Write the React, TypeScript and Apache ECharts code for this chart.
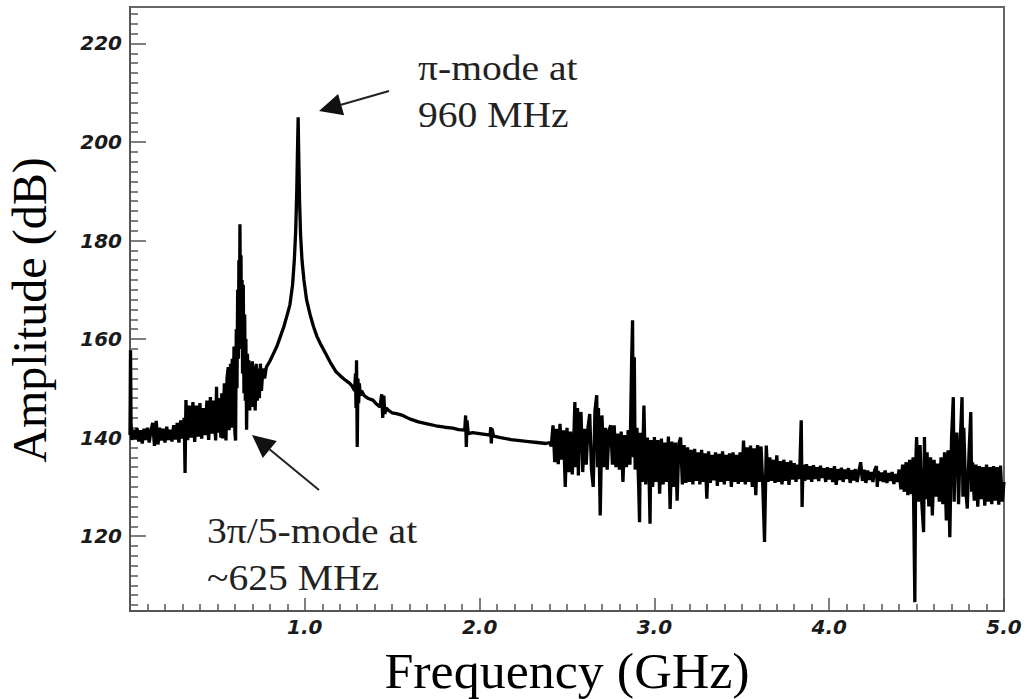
import React, { useEffect, useRef } from "react";
import * as echarts from "echarts";

// ---- data: frequency (GHz) vs amplitude (dB) ----
const lowBand: [number, number][] = [
  [0.0, 140.5], [0.003, 157.7], [0.006, 143.0], [0.01, 139.5], [0.02, 141.6], [0.03, 139.6],
  [0.04, 141.9], [0.05, 139.2], [0.06, 141.5], [0.07, 138.8], [0.08, 141.8], [0.09, 139.5],
  [0.1, 142.0], [0.11, 139.0], [0.12, 141.5], [0.13, 143.0], [0.14, 138.3], [0.15, 143.4],
  [0.16, 138.6], [0.17, 142.0], [0.18, 139.4], [0.19, 141.8], [0.2, 139.0], [0.21, 142.2],
  [0.22, 139.5], [0.23, 141.6], [0.24, 139.2], [0.25, 142.5], [0.26, 139.6], [0.27, 143.0],
  [0.28, 139.0], [0.29, 143.5], [0.3, 139.8], [0.31, 144.0], [0.315, 132.8], [0.32, 147.6],
  [0.33, 139.5], [0.34, 146.5], [0.35, 140.0], [0.36, 147.2], [0.37, 139.1], [0.38, 146.5],
  [0.39, 140.2], [0.4, 147.0], [0.41, 139.8], [0.42, 146.0], [0.43, 140.5], [0.44, 147.5],
  [0.45, 139.5], [0.46, 148.2], [0.47, 140.8], [0.48, 147.5], [0.49, 139.4], [0.495, 150.3],
  [0.5, 141.0], [0.51, 148.0], [0.52, 140.0], [0.525, 149.0], [0.53, 139.8], [0.54, 151.0],
  [0.549, 139.4], [0.555, 152.0], [0.562, 154.3], [0.567, 141.5], [0.575, 155.0], [0.58, 142.0],
  [0.585, 156.0], [0.59, 146.0], [0.595, 158.5], [0.6, 141.0], [0.604, 139.4], [0.608, 162.0],
  [0.612, 150.0], [0.616, 170.0], [0.62, 156.0], [0.623, 176.0], [0.626, 163.0], [0.629, 183.3],
  [0.632, 166.0], [0.635, 177.0], [0.638, 158.0], [0.641, 172.0], [0.644, 153.0], [0.648, 171.0],
  [0.652, 149.0], [0.656, 165.0], [0.66, 147.5], [0.663, 160.0], [0.667, 141.6], [0.672, 157.0],
  [0.676, 146.0], [0.68, 155.7], [0.685, 145.5], [0.69, 155.0], [0.695, 147.0], [0.7, 155.5],
  [0.705, 146.2], [0.71, 154.5], [0.716, 145.5], [0.722, 155.0], [0.728, 147.5], [0.734, 154.0],
  [0.74, 148.0], [0.746, 155.0], [0.752, 149.5], [0.76, 154.0], [0.77, 152.0], [0.78, 154.3],
];

const piModePeak: [number, number][] = [
  [0.8, 155.5], [0.82, 157.0], [0.84, 158.5], [0.86, 160.5], [0.88, 162.5], [0.9, 165.0],
  [0.915, 167.0], [0.93, 171.0], [0.94, 176.0], [0.948, 182.0], [0.954, 190.0], [0.958, 198.0],
  [0.962, 205.0], [0.966, 196.0], [0.97, 188.0], [0.976, 181.0], [0.984, 176.0], [0.995, 172.0],
  [1.01, 168.0], [1.03, 165.0], [1.05, 162.5], [1.07, 160.5], [1.09, 159.0], [1.12, 157.0],
  [1.15, 155.0], [1.18, 153.3], [1.22, 152.0], [1.257, 151.0], [1.27, 150.5], [1.285, 149.5],
];

const tailDecay: [number, number][] = [
  [1.29, 153.0], [1.293, 146.0], [1.296, 155.7], [1.3, 138.1], [1.304, 152.0], [1.308, 147.0],
  [1.312, 151.0], [1.318, 148.5], [1.325, 149.5], [1.34, 148.5], [1.36, 148.0], [1.39, 147.6],
  [1.41, 146.8], [1.43, 146.2], [1.44, 148.8], [1.446, 144.0], [1.452, 148.5], [1.458, 144.8],
  [1.465, 146.0], [1.48, 145.5], [1.5, 145.0], [1.53, 144.8], [1.56, 144.5], [1.6, 143.8],
  [1.65, 143.2], [1.7, 142.8], [1.75, 142.4], [1.8, 142.1], [1.846, 141.9], [1.88, 141.6],
  [1.915, 141.5], [1.92, 144.5], [1.924, 138.1], [1.928, 143.5], [1.935, 140.8], [1.96, 141.0],
  [2.0, 140.8], [2.06, 140.5], [2.064, 142.1], [2.067, 138.8], [2.071, 141.8], [2.08, 140.3],
  [2.12, 140.0], [2.18, 139.6], [2.23, 139.4], [2.28, 139.2], [2.33, 139.0], [2.38, 138.8],
];

const midNoise: [number, number][] = [
  [2.4, 139.0], [2.41, 138.2], [2.42, 142.5], [2.43, 135.0], [2.44, 141.8], [2.45, 134.6],
  [2.46, 142.8], [2.47, 135.5], [2.48, 141.5], [2.49, 130.0], [2.5, 142.0], [2.51, 133.0],
  [2.52, 141.2], [2.53, 132.5], [2.54, 141.0], [2.545, 147.2], [2.55, 134.0], [2.56, 146.0],
  [2.565, 132.3], [2.57, 141.5], [2.58, 145.2], [2.59, 133.0], [2.6, 141.8], [2.61, 134.5],
  [2.62, 142.0], [2.63, 144.8], [2.64, 133.5], [2.65, 130.0], [2.66, 145.5], [2.67, 148.6],
  [2.675, 134.0], [2.68, 146.0], [2.69, 124.2], [2.7, 144.5], [2.71, 134.0], [2.72, 142.0],
  [2.73, 133.5], [2.74, 141.5], [2.75, 142.5], [2.76, 134.5], [2.77, 142.5], [2.78, 134.0],
  [2.79, 140.8], [2.8, 133.5], [2.81, 141.2], [2.82, 131.0], [2.83, 140.5], [2.84, 134.0],
  [2.85, 141.5], [2.86, 134.5], [2.87, 156.0], [2.875, 163.8], [2.88, 136.0], [2.885, 156.3],
  [2.89, 133.5], [2.9, 142.0], [2.91, 130.0], [2.915, 122.8], [2.92, 141.0], [2.93, 131.0],
  [2.94, 146.5], [2.95, 130.5], [2.96, 140.0], [2.97, 131.5], [2.975, 122.5], [2.98, 139.5],
  [2.99, 130.0], [3.0, 140.1], [3.01, 131.0], [3.02, 139.5], [3.03, 128.6], [3.04, 139.8],
  [3.05, 130.5], [3.06, 139.0], [3.07, 131.0], [3.08, 140.2], [3.09, 125.5], [3.1, 139.2],
  [3.11, 130.0], [3.12, 139.0], [3.13, 127.2], [3.14, 138.8], [3.15, 140.0], [3.16, 130.5],
  [3.17, 138.5], [3.18, 130.8], [3.19, 138.0], [3.2, 131.0], [3.21, 137.5], [3.22, 130.5],
  [3.23, 137.7], [3.24, 131.2], [3.25, 137.0], [3.26, 130.5], [3.27, 137.5], [3.28, 131.0],
  [3.29, 136.8], [3.3, 127.6], [3.31, 137.2], [3.32, 130.8], [3.33, 136.5], [3.34, 131.3],
  [3.35, 137.0], [3.36, 130.2], [3.37, 136.7], [3.38, 131.0], [3.39, 137.2], [3.4, 130.5],
  [3.41, 136.5], [3.42, 131.2], [3.43, 136.8], [3.44, 130.0], [3.45, 137.0], [3.46, 131.0],
  [3.47, 136.5], [3.48, 130.6], [3.49, 137.0], [3.5, 131.0], [3.51, 139.4], [3.52, 130.5],
  [3.53, 138.0], [3.54, 131.0], [3.55, 138.4], [3.56, 130.0], [3.57, 137.8], [3.58, 128.3],
  [3.59, 138.5], [3.6, 131.0], [3.61, 138.2], [3.62, 130.5], [3.63, 118.8], [3.64, 138.4],
  [3.65, 131.0], [3.66, 136.0], [3.67, 131.2], [3.68, 135.5], [3.69, 130.8], [3.7, 136.4],
  [3.71, 131.0], [3.72, 135.2], [3.73, 130.5], [3.74, 135.5], [3.75, 131.2], [3.76, 135.0],
  [3.77, 130.4], [3.78, 135.3], [3.79, 131.5], [3.8, 134.8], [3.81, 131.0], [3.82, 134.5],
  [3.83, 131.6], [3.84, 143.5], [3.845, 125.9], [3.85, 134.5], [3.86, 131.2], [3.87, 134.6],
  [3.88, 131.5], [3.89, 134.2],
];

const quietBand: [number, number][] = [
  [3.9, 131.0], [3.91, 134.4], [3.92, 131.6], [3.93, 134.0], [3.94, 131.2], [3.95, 134.3],
  [3.96, 131.8], [3.97, 133.8], [3.98, 131.0], [3.99, 134.0], [4.0, 131.5], [4.01, 133.8],
  [4.02, 131.0], [4.03, 134.2], [4.04, 130.4], [4.05, 133.6], [4.06, 131.4], [4.07, 133.9],
  [4.08, 131.0], [4.09, 133.5], [4.1, 131.6], [4.11, 133.8], [4.12, 130.8], [4.13, 133.4],
  [4.14, 131.3], [4.15, 133.6], [4.16, 131.0], [4.17, 133.2], [4.18, 135.0], [4.19, 131.2],
  [4.2, 133.5], [4.21, 130.8], [4.22, 133.3], [4.23, 131.4], [4.24, 133.0], [4.25, 131.0],
  [4.26, 133.4], [4.27, 134.2], [4.275, 130.0], [4.28, 133.2], [4.29, 131.2], [4.3, 132.9],
  [4.31, 131.0], [4.32, 133.3], [4.33, 130.8], [4.34, 132.8], [4.35, 131.2], [4.36, 133.0],
  [4.37, 130.6], [4.38, 132.6], [4.39, 131.0], [4.4, 133.5], [4.41, 129.5], [4.42, 134.5],
  [4.43, 129.0], [4.44, 135.0],
];

const highNoise: [number, number][] = [
  [4.45, 128.3], [4.46, 135.5], [4.47, 128.5], [4.48, 136.0], [4.49, 106.6], [4.495, 134.5],
  [4.5, 140.1], [4.51, 127.0], [4.52, 138.5], [4.53, 126.6], [4.54, 120.8], [4.545, 140.1],
  [4.55, 127.5], [4.56, 137.0], [4.57, 126.0], [4.58, 136.0], [4.59, 124.2], [4.6, 135.5],
  [4.61, 128.0], [4.62, 134.7], [4.63, 127.0], [4.64, 136.0], [4.65, 126.5], [4.66, 137.0],
  [4.67, 123.2], [4.68, 137.4], [4.69, 119.8], [4.7, 140.0], [4.71, 148.2], [4.715, 127.0],
  [4.72, 139.0], [4.73, 141.0], [4.74, 126.5], [4.75, 139.5], [4.76, 148.2], [4.765, 128.0],
  [4.77, 142.0], [4.78, 130.0], [4.79, 125.6], [4.8, 137.0], [4.81, 145.2], [4.815, 129.0],
  [4.82, 135.0], [4.83, 127.2], [4.84, 134.5], [4.85, 126.0], [4.86, 134.2], [4.87, 127.5],
  [4.88, 134.0], [4.89, 126.2], [4.9, 134.5], [4.91, 127.0], [4.92, 134.0], [4.93, 126.5],
  [4.94, 134.2], [4.95, 127.2], [4.96, 134.0], [4.97, 126.4], [4.98, 134.3], [4.99, 127.0],
  [5.0, 131.0],
];

const yMajorTicks = [120, 140, 160, 180, 200, 220];
const yRange = { min: 104.8, max: 227.4 };
const xRange = { min: 0, max: 5 };

const annotations = [
  { lines: ["π-mode at", "960 MHz"], x: 418, y: 68, arrowFrom: [389, 91], arrowTo: [319, 111] },
  { lines: ["3π/5-mode at", "~625 MHz"], x: 207, y: 531, arrowFrom: [319, 490], arrowTo: [252, 435] },
];

function arrowHead(from: number[], to: number[], len: number, half: number) {
  const dx = to[0] - from[0];
  const dy = to[1] - from[1];
  const d = Math.hypot(dx, dy);
  const ux = dx / d, uy = dy / d;
  const bx = to[0] - ux * len, by = to[1] - uy * len;
  return {
    base: [bx, by],
    points: [to, [bx - uy * half, by + ux * half], [bx + uy * half, by - ux * half]],
  };
}

export default function App() {
  const ref = useRef<HTMLDivElement>(null);

  useEffect(() => {
    if (!ref.current) return;
    const chart = echarts.init(ref.current, null, { renderer: "svg" });
    const data = [...lowBand, ...piModePeak, ...tailDecay, ...midNoise, ...quietBand, ...highNoise];

    const yMinor: number[] = [];
    for (let v = 106; v <= 226; v += 2) if (!yMajorTicks.includes(v)) yMinor.push(v);

    const labelFont = {
      fontFamily: '"DejaVu Sans", Verdana, sans-serif',
      fontSize: 20,
      fontWeight: "bold" as const,
      fontStyle: "italic" as const,
      color: "#1a1a1a",
    };
    const axisColor = "#555";

    const graphics: any[] = [
      {
        type: "text",
        x: 29,
        y: 310,
        rotation: Math.PI / 2,
        style: {
          text: "Amplitude (dB)",
          font: '48px "Liberation Serif", serif',
          fill: "#000",
          textAlign: "center",
          textVerticalAlign: "middle",
        },
      },
      {
        type: "text",
        x: 567,
        y: 671,
        style: {
          text: "Frequency (GHz)",
          font: '50px "Liberation Serif", serif',
          fill: "#000",
          textAlign: "center",
          textVerticalAlign: "middle",
        },
        scaleX: 1.04,
      },
    ];

    annotations.forEach((a) => {
      a.lines.forEach((t, i) => {
        graphics.push({
          type: "text",
          x: a.x,
          y: a.y + i * 47,
          scaleX: 1.1,
          style: {
            text: t,
            font: '36px "Liberation Serif", serif',
            fill: "#222",
            textAlign: "left",
            textVerticalAlign: "middle",
          },
        });
      });
      const head = arrowHead(a.arrowFrom, a.arrowTo, 23, 11);
      graphics.push({
        type: "line",
        shape: { x1: a.arrowFrom[0], y1: a.arrowFrom[1], x2: head.base[0], y2: head.base[1] },
        style: { stroke: "#222", lineWidth: 2 },
      });
      graphics.push({
        type: "polygon",
        shape: { points: head.points },
        style: { fill: "#111" },
      });
    });

    chart.setOption({
      animation: false,
      backgroundColor: "#fff",
      grid: {
        left: 130,
        right: 23,
        top: 7,
        bottom: 88,
        show: true,
        borderColor: "#666",
        borderWidth: 2,
        backgroundColor: "transparent",
      },
      xAxis: {
        type: "value",
        min: xRange.min,
        max: xRange.max,
        interval: 1,
        axisLine: { show: true, lineStyle: { color: axisColor, width: 2 } },
        axisTick: { show: true, inside: true, length: 13, lineStyle: { color: axisColor, width: 1.5 } },
        minorTick: { show: true, splitNumber: 10, length: 7, lineStyle: { color: axisColor, width: 1.5 } },
        splitLine: { show: false },
        minorSplitLine: { show: false },
        axisLabel: {
          ...labelFont,
          margin: 6,
          formatter: (v: number) => (v === 0 ? "" : v.toFixed(1)),
        },
      },
      yAxis: [
        {
          type: "value",
          min: yRange.min,
          max: yRange.max,
          axisLine: { show: true, lineStyle: { color: axisColor, width: 2 } },
          axisTick: {
            show: true,
            inside: true,
            length: 16,
            customValues: yMajorTicks,
            lineStyle: { color: axisColor, width: 1.5 },
          },
          axisLabel: {
            ...labelFont,
            margin: 8,
            customValues: yMajorTicks,
            formatter: (v: number) => String(Math.round(v)),
          },
          splitLine: { show: false },
        },
        {
          type: "value",
          min: yRange.min,
          max: yRange.max,
          position: "left",
          axisLine: { show: false },
          axisTick: {
            show: true,
            inside: true,
            length: 8,
            customValues: yMinor,
            lineStyle: { color: axisColor, width: 1.5 },
          },
          axisLabel: { show: false },
          splitLine: { show: false },
        },
      ],
      series: [
        {
          type: "line",
          data,
          yAxisIndex: 0,
          symbol: "none",
          showSymbol: false,
          silent: true,
          lineStyle: { color: "#000", width: 3.3, join: "bevel" },
        },
      ],
      graphic: graphics,
    });

    return () => chart.dispose();
  }, []);

  return (
    <div
      ref={ref}
      style={{ position: "fixed", left: 0, top: 0, width: 1027, height: 699, background: "#fff" }}
    />
  );
}
